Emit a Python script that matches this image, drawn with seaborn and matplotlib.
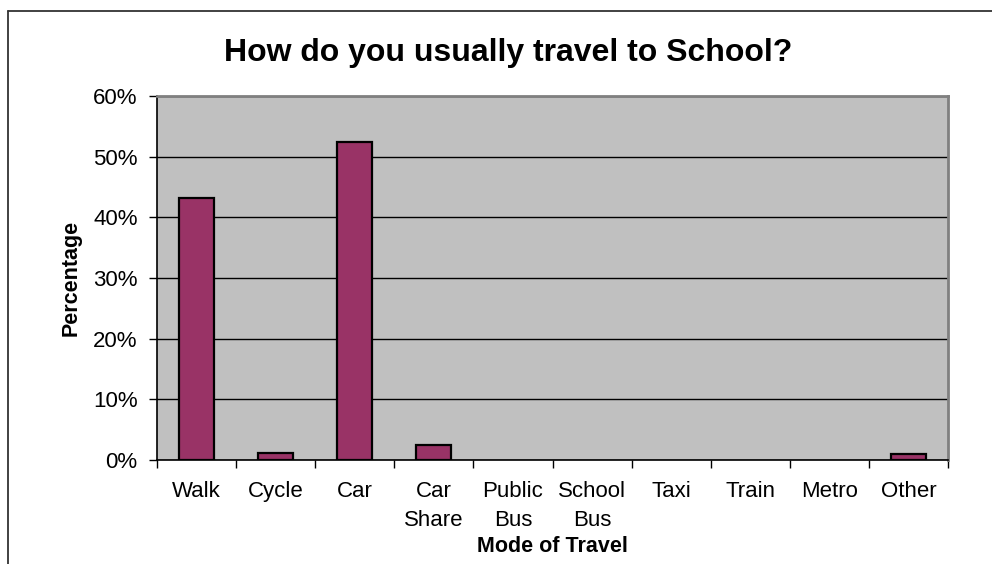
import matplotlib
matplotlib.use("Agg")
import matplotlib.pyplot as plt
import seaborn as sns
import pandas as pd
import numpy as np
from matplotlib.lines import Line2D
from matplotlib.ticker import PercentFormatter, FixedLocator

categories = ["Walk", "Cycle", "Car", "Car\nShare", "Public\nBus", "School\nBus", "Taxi", "Train", "Metro", "Other"]
percentages = [43.2, 1.1, 52.4, 2.4, 0.0, 0.0, 0.0, 0.0, 0.0, 1.0]
y_ticks = [0, 10, 20, 30, 40, 50, 60]

sns.set_theme(style="white")
plt.rcParams['font.family'] = ['Liberation Sans', 'DejaVu Sans']
plt.rcParams['text.color'] = 'black'
plt.rcParams['axes.labelcolor'] = 'black'
plt.rcParams['xtick.color'] = 'black'
plt.rcParams['ytick.color'] = 'black'

df = pd.DataFrame({"Mode": categories, "Percentage": percentages})

fig = plt.figure(figsize=(9.92, 5.64), dpi=100)
ax = fig.add_axes([157/992, 1 - 460/564, (948-157)/992, (460-96)/564])
ax.set_facecolor("#C0C0C0")

sns.barplot(data=df, x="Mode", y="Percentage", color="#993366", edgecolor="black",
            linewidth=1.6, width=0.444, saturation=1, ax=ax, zorder=3)
for p in ax.patches:
    if p.get_height() == 0:
        p.set_linewidth(0)

ax.set_ylim(0, 60)
ax.set_xlim(-0.5, len(categories) - 0.5)
ax.yaxis.set_major_locator(FixedLocator(y_ticks))
ax.yaxis.set_major_formatter(PercentFormatter(decimals=0))
ax.grid(axis="y", color="black", linewidth=1.0, zorder=1)
ax.set_axisbelow(True)

for s in ["top", "right"]:
    ax.spines[s].set_color("#808080")
    ax.spines[s].set_linewidth(2)
for s in ["left", "bottom"]:
    ax.spines[s].set_color("black")
    ax.spines[s].set_linewidth(1.2)

ax.tick_params(axis="y", which="major", direction="out", length=6, width=1, color="black",
               labelsize=16, pad=8, left=True)
ax.tick_params(axis="x", which="major", length=0, labelsize=16, pad=15)
ax.set_xticks(np.arange(-0.5, len(categories), 1.0), minor=True)
ax.tick_params(axis="x", which="minor", direction="out", length=6, width=1, color="black", bottom=True)
for lbl in ax.get_xticklabels():
    lbl.set_linespacing(1.5)
    lbl.set_verticalalignment("top")

ax.set_xlabel("Mode of Travel", fontsize=15.5, fontweight="bold")
ax.set_ylabel("Percentage", fontsize=15.5, fontweight="bold")
ax.xaxis.label.set_va("center")
ax.yaxis.label.set_va("center")
ax.xaxis.set_label_coords(0.5, -87/364)
ax.yaxis.set_label_coords(-(157-71)/791, 0.5)

fig.text(0.512, 1 - 53/564, "How do you usually travel to School?", ha="center", va="center",
         fontsize=23, fontweight="bold")

fig.add_artist(Line2D([8/992, 1.0], [1 - 11/564, 1 - 11/564], color="#333333", linewidth=1.3,
                      transform=fig.transFigure))
fig.add_artist(Line2D([8/992, 8/992], [0, 1 - 11/564], color="#333333", linewidth=1.3,
                      transform=fig.transFigure))

fig.savefig("out.png", dpi=100, facecolor="white")
